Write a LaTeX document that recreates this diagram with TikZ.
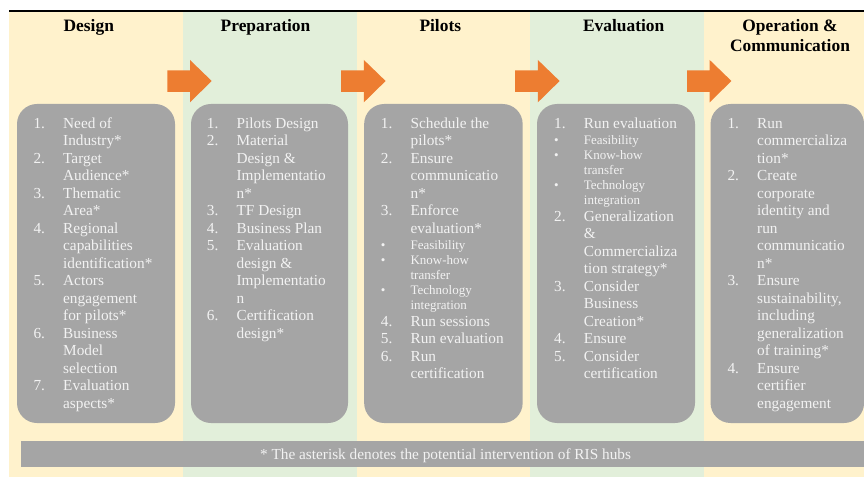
\documentclass[tikz,border=0pt]{standalone}
\usepackage{fontspec}
\setmainfont{Liberation Serif}
\definecolor{bgY}{HTML}{FFF2CC}
\definecolor{bgG}{HTML}{E2EFDA}
\definecolor{boxG}{HTML}{A5A5A5}
\definecolor{txtW}{HTML}{F2F2F2}
\definecolor{arrO}{HTML}{ED7D31}
\newlength\numw \setlength\numw{29.7pt}
\newcommand\bigf{\fontsize{15.3}{17.5}\selectfont}
\newcommand\smf{\fontsize{13}{15}\selectfont}
\newcommand\Lx[4]{\vskip#1\relax\hbox{\smash{#2\makebox[\numw][l]{#3}#4}}}
\newcommand\First[2]{\Lx{0pt}{\bigf}{#1}{#2}}
\newcommand\Bf[2]{\Lx{17.5pt}{\bigf}{#1}{#2}}
\newcommand\Bs[2]{\Lx{17pt}{\bigf}{#1}{#2}}
\newcommand\Sb[2]{\Lx{16pt}{\smf}{#1}{#2}}
\newcommand\Sf[2]{\Lx{15pt}{\smf}{#1}{#2}}
\newcommand\twolines[2]{\vtop{\offinterlineskip\hbox to 0pt{\hss\smash{#1}\hss}\vskip20pt\hbox to 0pt{\hss\smash{#2}\hss}}}
\tikzset{
  colbg/.style={inner sep=0, outer sep=0, minimum height=466pt, anchor=north west},
  card/.style={fill=boxG, rounded corners=20pt, inner sep=0, minimum height=319pt},
  listtxt/.style={inner sep=0, anchor=base west, text=txtW},
  head/.style={inner sep=0, anchor=base, font=\bfseries\fontsize{17.4}{20}\selectfont},
  blockarrow/.pic={\fill[arrO] (0,-10.5) -- (22.7,-10.5) -- (22.7,-21) -- (44.4,0) -- (22.7,21.3) -- (22.7,10.8) -- (0,10.8) -- cycle;}
}
\begin{document}
\begin{tikzpicture}[x=1pt,y=-1pt]
\useasboundingbox (0,0) rectangle (864,478);
% column backgrounds
\node[colbg, fill=bgY, minimum width=174pt] (bg1) at (9,11) {};
\node[colbg, fill=bgG, minimum width=174pt] (bg2) at (183,11) {};
\node[colbg, fill=bgY, minimum width=173pt] (bg3) at (357,11) {};
\node[colbg, fill=bgG, minimum width=174pt] (bg4) at (530,11) {};
\node[colbg, fill=bgY, minimum width=160pt] (bg5) at (704,11) {};
\draw[line width=1.7pt] (bg1.north west) -- (bg5.north east);
% headers
\node[head] (h1) at (88.8,31.7) {Design};
\node[head] (h2) at (265.5,31.7) {Preparation};
\node[head] (h3) at (440.3,31.7) {Pilots};
\node[head] (h4) at (623.7,31.7) {Evaluation};
\node[head] (h5) at (790,31.5) {\twolines{Operation \&}{Communication}};
% arrows
\pic at (167.3,81) {blockarrow};
\pic at (341.2,81) {blockarrow};
\pic at (515.2,81) {blockarrow};
\pic at (687,81) {blockarrow};
% cards
\node[card, minimum width=158pt] (c1) at (96,263.5) {};
\node[card, minimum width=157pt] (c2) at (269.5,263.5) {};
\node[card, minimum width=158.5pt] (c3) at (443.4,263.5) {};
\node[card, minimum width=158pt] (c4) at (616,263.5) {};
\node[card, minimum width=153.5pt] (c5) at (787.3,263.5) {};
% lists
\node[listtxt] (l1) at (33.3,128.3) {\vtop{\offinterlineskip
  \First{1.}{Need of}\Bf{}{Industry*}
  \Bf{2.}{Target}\Bf{}{Audience*}
  \Bf{3.}{Thematic}\Bf{}{Area*}
  \Bf{4.}{Regional}\Bf{}{capabilities}\Bf{}{identification*}
  \Bf{5.}{Actors}\Bf{}{engagement}\Bf{}{for pilots*}
  \Bf{6.}{Business}\Bf{}{Model}\Bf{}{selection}
  \Bf{7.}{Evaluation}\Bf{}{aspects*}}};
\node[listtxt] (l2) at (206.7,128.3) {\vtop{\offinterlineskip
  \First{1.}{Pilots Design}
  \Bf{2.}{Material}\Bf{}{Design \&}\Bf{}{Implementatio}\Bf{}{n*}
  \Bf{3.}{TF Design}
  \Bf{4.}{Business Plan}
  \Bf{5.}{Evaluation}\Bf{}{design \&}\Bf{}{Implementatio}\Bf{}{n}
  \Bf{6.}{Certification}\Bf{}{design*}}};
\node[listtxt] (l3) at (380.7,128.3) {\vtop{\offinterlineskip
  \First{1.}{Schedule the}\Bf{}{pilots*}
  \Bf{2.}{Ensure}\Bf{}{communicatio}\Bf{}{n*}
  \Bf{3.}{Enforce}\Bf{}{evaluation*}
  \Sb{•}{Feasibility}
  \Sf{•}{Know-how}\Sf{}{transfer}
  \Sf{•}{Technology}\Sf{}{integration}
  \Bs{4.}{Run sessions}
  \Bf{5.}{Run evaluation}
  \Bf{6.}{Run}\Bf{}{certification}}};
\node[listtxt] (l4) at (554,128.3) {\vtop{\offinterlineskip
  \First{1.}{Run evaluation}
  \Sb{•}{Feasibility}
  \Sf{•}{Know-how}\Sf{}{transfer}
  \Sf{•}{Technology}\Sf{}{integration}
  \Bs{2.}{Generalization}\Bf{}{\&}\Bf{}{Commercializa}\Bf{}{tion strategy*}
  \Bf{3.}{Consider}\Bf{}{Business}\Bf{}{Creation*}
  \Bf{4.}{Ensure}
  \Bf{5.}{Consider}\Bf{}{certification}}};
\node[listtxt] (l5) at (727.3,128.3) {\vtop{\offinterlineskip
  \First{1.}{Run}\Bf{}{commercializa}\Bf{}{tion*}
  \Bf{2.}{Create}\Bf{}{corporate}\Bf{}{identity and}\Bf{}{run}\Bf{}{communicatio}\Bf{}{n*}
  \Bf{3.}{Ensure}\Bf{}{sustainability,}\Bf{}{including}\Bf{}{generalization}\Bf{}{of training*}
  \Bf{4.}{Ensure}\Bf{}{certifier}\Bf{}{engagement}}};
% footer
\node[fill=boxG, inner sep=0, minimum width=843pt, minimum height=26pt, anchor=north west] (foot) at (21,440.7) {};
\node[inner sep=0, anchor=base, text=txtW, font=\fontsize{15.3}{17.5}\selectfont] (foottxt) at (445.5,459) {* The asterisk denotes the potential intervention of RIS hubs};
\end{tikzpicture}
\end{document}
